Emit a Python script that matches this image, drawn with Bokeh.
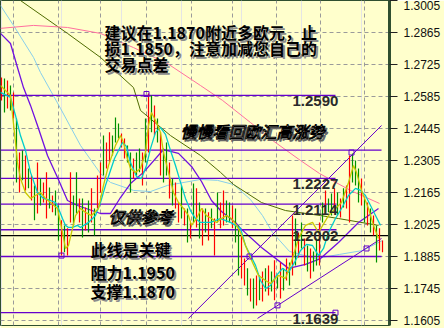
from bokeh.plotting import figure
from bokeh.models import Range1d, FixedTicker, Grid, Label, PrintfTickFormatter
from bokeh.core.properties import value
from bokeh.embed import file_html
from bokeh.resources import INLINE

# ---- price bars (high / low per bar, 1 = up bar) ----
bar_high = [1.2668, 1.2664, 1.2655, 1.2633, 1.2603, 1.2489, 1.2340, 1.2349, 1.2327, 1.2270,
            1.2239, 1.2196, 1.2296, 1.2226, 1.2209, 1.2253, 1.2187, 1.2152, 1.2174, 1.2108,
            1.2043, 1.2021, 1.2008, 1.2253, 1.2152, 1.2253, 1.2139, 1.2139, 1.2099, 1.2130,
            1.2183, 1.2095, 1.2239, 1.2296, 1.2414, 1.2384, 1.2428, 1.2414, 1.2493, 1.2467,
            1.2423, 1.2401, 1.2371, 1.2340, 1.2314, 1.2340, 1.2357, 1.2340, 1.2489, 1.2598,
            1.2589, 1.2546, 1.2489, 1.2428, 1.2357, 1.2384, 1.2296, 1.2226, 1.2209, 1.2121,
            1.2196, 1.2095, 1.2095, 1.2034, 1.2204, 1.2183, 1.2121, 1.2095, 1.2095, 1.2078,
            1.2095, 1.2051, 1.2165, 1.2121, 1.2174, 1.2130, 1.2121, 1.2108, 1.2095, 1.2021,
            1.1977, 1.1876, 1.1833, 1.1789, 1.1789, 1.1802, 1.1802, 1.1819, 1.1833, 1.1846,
            1.1819, 1.1868, 1.1802, 1.1859, 1.1833, 1.1876, 1.1859, 1.2064, 1.2051, 1.1990,
            1.2034, 1.1964, 1.1933, 1.1920, 1.1907, 1.1964, 1.2034, 1.2121, 1.2174, 1.2139,
            1.2161, 1.2183, 1.2165, 1.2139, 1.2183, 1.2196, 1.2327, 1.2336, 1.2305, 1.2270,
            1.2226, 1.2139, 1.2121, 1.2095, 1.2064, 1.2021, 1.2008, 1.1955]
bar_low = [1.2568, 1.2515, 1.2533, 1.2524, 1.2489, 1.2209, 1.2165, 1.2218, 1.2174, 1.2183,
           1.2130, 1.2043, 1.2073, 1.2108, 1.2121, 1.2051, 1.2095, 1.2078, 1.2064, 1.1955,
           1.1889, 1.1903, 1.1889, 1.2034, 1.2021, 1.2073, 1.2034, 1.1968, 1.1999, 1.1990,
           1.2034, 1.1977, 1.2095, 1.2165, 1.2239, 1.2270, 1.2296, 1.2327, 1.2384, 1.2401,
           1.2362, 1.2314, 1.2296, 1.2165, 1.2226, 1.2239, 1.2253, 1.2196, 1.2296, 1.2340,
           1.2428, 1.2414, 1.2384, 1.2239, 1.2209, 1.2239, 1.2139, 1.2108, 1.2095, 1.2034,
           1.2051, 1.2021, 1.1946, 1.1964, 1.2034, 1.2012, 1.1964, 1.1933, 1.1990, 1.1955,
           1.2008, 1.1889, 1.2034, 1.2008, 1.2021, 1.2034, 1.2034, 1.2008, 1.1946, 1.1802,
           1.1789, 1.1758, 1.1714, 1.1688, 1.1657, 1.1671, 1.1693, 1.1688, 1.1732, 1.1714,
           1.1732, 1.1693, 1.1745, 1.1701, 1.1736, 1.1780, 1.1758, 1.1802, 1.1846, 1.1881,
           1.1920, 1.1846, 1.1819, 1.1789, 1.1819, 1.1846, 1.1846, 1.2034, 1.2078, 1.2078,
           1.2064, 1.2078, 1.2064, 1.2056, 1.2099, 1.2095, 1.2034, 1.2209, 1.2196, 1.2121,
           1.2108, 1.2034, 1.2021, 1.1990, 1.1977, 1.1859, 1.1911, 1.1903]
bar_up = [0, 1, 0, 1, 0, 1, 0, 1, 0, 1, 0, 1, 0, 1, 0, 0, 1, 0, 1, 1,
          0, 1, 0, 0, 1, 1, 0, 1, 0, 1, 0, 1, 0, 0, 1, 0, 0, 1, 1, 1,
          0, 0, 1, 1, 0, 1, 1, 0, 1, 0, 1, 0, 1, 0, 1, 1, 0, 1, 0, 0,
          1, 0, 1, 0, 1, 0, 1, 0, 1, 0, 1, 0, 1, 0, 0, 1, 1, 0, 1, 1,
          0, 0, 1, 0, 1, 0, 1, 0, 1, 0, 1, 0, 1, 0, 1, 0, 1, 0, 1, 0,
          1, 0, 1, 0, 1, 1, 0, 1, 0, 1, 1, 0, 1, 0, 1, 0, 0, 1, 1, 1,
          0, 1, 0, 1, 0, 1, 0, 0]

# ---- moving averages (bar position, price) ----
ma_yellow_x = [-0.33, 3, 4.67, 5.33, 6.33, 8, 9.67, 11.33, 13, 14.67, 16.33, 18.67, 20.33, 21.33,
               22.33, 23.67, 24.67, 26.33, 28, 30, 32.33, 34, 35.67, 38, 39.67, 40.67, 41.67, 43,
               44.67, 46.33, 48, 49, 50, 51.67, 53, 54, 55.67, 57.33, 59, 60.67, 62.33, 63.33, 65,
               66.67, 68.33, 70, 71.67, 73.33, 75, 76.67, 78.33, 79.67, 81.33, 83.67, 85.67, 88,
               89.67, 92.33, 94.67, 97, 99, 101.33, 103.67, 105.67, 109, 111.33, 113.33, 115.67,
               117.33, 118.33, 120, 122.33, 124, 125.67]
ma_yellow_y = [1.2633, 1.2589, 1.2384, 1.2296, 1.2226, 1.2165, 1.2139, 1.2152, 1.2165, 1.2139,
               1.2121, 1.2095, 1.1990, 1.1920, 1.1933, 1.2008, 1.2064, 1.2095, 1.2078, 1.2064,
               1.2095, 1.2196, 1.2283, 1.2371, 1.2414, 1.2384, 1.2327, 1.2270, 1.2253, 1.2270,
               1.2340, 1.2458, 1.2515, 1.2471, 1.2428, 1.2340, 1.2253, 1.2165, 1.2121, 1.2095,
               1.2064, 1.2021, 1.2051, 1.2095, 1.2064, 1.2051, 1.2034, 1.2051, 1.2064, 1.2051,
               1.2021, 1.1990, 1.1933, 1.1859, 1.1802, 1.1780, 1.1767, 1.1802, 1.1789, 1.1876,
               1.1964, 1.2021, 1.2034, 1.1990, 1.2064, 1.2095, 1.2121, 1.2209, 1.2283, 1.2253,
               1.2174, 1.2095, 1.2021, 1.1964]

ma_cyan_x = [-0.33, 3, 4.67, 6.33, 8, 9.67, 12, 14, 16.33, 18, 19, 20.33, 21.33, 22.33, 23.67,
             25.33, 26.33, 29, 31.33, 33, 34.67, 36.33, 37.67, 39, 40.33, 41.67, 43, 45, 46.67,
             48.33, 49.67, 51.33, 53, 54.67, 56.33, 58, 59.67, 61.33, 63, 64.67, 66.33, 69.67,
             73, 76.33, 79.67, 81.33, 83, 84.67, 86.33, 88, 89.67, 91.67, 93.67, 95.67, 97.67,
             99.67, 101.67, 103.67, 105.67, 107.33, 109, 111.33, 113.33, 115.67, 118, 119.67,
             121.33, 123, 124.67, 126.33]
ma_cyan_y = [1.2603, 1.2581, 1.2502, 1.2414, 1.2349, 1.2253, 1.2165, 1.2139, 1.2130, 1.2121,
             1.2095, 1.2051, 1.2021, 1.2012, 1.2012, 1.2021, 1.2012, 1.2034, 1.2064, 1.2121,
             1.2196, 1.2261, 1.2314, 1.2349, 1.2384, 1.2366, 1.2296, 1.2235, 1.2226, 1.2283,
             1.2357, 1.2428, 1.2449, 1.2419, 1.2349, 1.2283, 1.2209, 1.2139, 1.2086, 1.2051,
             1.2034, 1.2034, 1.2051, 1.2034, 1.2008, 1.1933, 1.1889, 1.1846, 1.1780, 1.1745,
             1.1758, 1.1802, 1.1833, 1.1815, 1.1859, 1.1911, 1.1938, 1.1933, 1.1889, 1.1920,
             1.1990, 1.2051, 1.2095, 1.2152, 1.2183, 1.2174, 1.2152, 1.2108, 1.2064, 1.2021]

ma_violet_x = [-0.33, 3, 5.33, 7.33, 9.67, 12, 15.33, 18.67, 22, 25.33, 33, 36.33, 39.67, 43,
               47.33, 54, 59, 63.33, 66.67, 70, 73.33, 78, 79.67, 86.67, 95.67, 101.33, 106.33,
               112.33, 119, 125.67]
ma_violet_y = [1.2861, 1.2817, 1.2712, 1.2624, 1.2546, 1.2458, 1.2327, 1.2231, 1.2130, 1.2108,
               1.2073, 1.2073, 1.2143, 1.2204, 1.2253, 1.2353, 1.2336, 1.2279, 1.2213, 1.2130,
               1.2082, 1.2034, 1.2008, 1.1924, 1.1833, 1.1850, 1.1876, 1.1946, 1.2034, 1.2095]

ma_sky_x = [-0.33, 4, 10.67, 13, 19.67, 26.33, 33, 36.33, 44, 49.67, 55.33, 66.33, 72, 77.33,
            83, 87, 90.33, 96, 104.67, 112.67, 120.33, 127]
ma_sky_y = [1.2983, 1.2896, 1.2756, 1.2690, 1.2533, 1.2371, 1.2248, 1.2209, 1.2174, 1.2169,
            1.2196, 1.2222, 1.2218, 1.2200, 1.2134, 1.2064, 1.1990, 1.1907, 1.1876, 1.1894,
            1.1911, 1.1955]

ma_olive_x = [6.33, 22, 33, 44, 46.33, 56.33, 66.33, 73, 77.33, 86.67, 94.67, 106.33, 112.33, 125.67]
ma_olive_y = [1.3005, 1.2861, 1.2756, 1.2624, 1.2524, 1.2414, 1.2327, 1.2253, 1.2200, 1.2121,
              1.2086, 1.2064, 1.2051, 1.2021]

ma_pink_x = [-0.33, 10.67, 22, 33, 44, 55.33, 66.33, 73.67, 83, 90.33, 99.67, 106, 116.33, 126]
ma_pink_y = [1.2883, 1.2896, 1.2887, 1.2861, 1.2799, 1.2729, 1.2633, 1.2568, 1.2471, 1.2393,
             1.2305, 1.2248, 1.2174, 1.2117]

# ---- horizontal levels and trend lines ----
level_price = [1.2590, 1.2350, 1.2227, 1.2114, 1.2002, 1.1885, 1.1639]
level_end = [111.33, 126.67, 111.33, 111.67, 111.67, 126.67, 111.33]
level_tags = ["1.2590", "", "1.2227", "1.2114", "1.2002", "", "1.1639"]
bid_price = 1.1976

trend_x0 = [62.33, 85.33]
trend_y0 = [1.1614, 1.1614]
trend_x1 = [126.67, 126.67]
trend_y1 = [1.2458, 1.1964]

marker_x = [48.33, 20, 82.67, 92, 111.33, 116.67, 121.67]
marker_y = [1.2596, 1.1889, 1.1885, 1.1671, 1.1639, 1.2340, 1.1920]

price_ticks = [1.3005, 1.2865, 1.2725, 1.2585, 1.2445, 1.2305, 1.2165, 1.2025, 1.1885, 1.1745, 1.1605]
time_ticks = [4, 19, 33, 48.33, 63.33, 77, 91.67, 106.33, 121]

note_lines = ["建议在1.1870附近多欧元，止", "损1.1850，注意加减您自己的", "交易点差"]
key_lines = ["此线是关键", "阻力1.1950", "支撑1.1870"]
banner_text = "慢慢看回欧汇高涨势"
ref_text = "仅供参考"

BG = "#FFFFCC"
VIOLET = "#6600CC"

p = figure(frame_width=389, frame_height=325, output_backend="svg", toolbar_location=None,
           x_range=Range1d(-0.33, 129.33), y_range=Range1d(1.1583, 1.3005),
           x_axis_location=None, y_axis_location="right",
           min_border_left=0, min_border_top=0, min_border_bottom=3, min_border_right=55)
p.background_fill_color = BG
p.border_fill_color = BG
p.outline_line_color = "#2F4F2F"
p.outline_line_width = 1

yax = p.yaxis[0]
yax.ticker = FixedTicker(ticks=price_ticks)
yax.formatter = PrintfTickFormatter(format="%.4f")
yax.axis_line_color = "#2F4F2F"
yax.axis_line_width = 3
yax.major_tick_out = 8
yax.major_tick_in = 0
yax.minor_tick_line_color = None
yax.major_tick_line_color = "#222222"
yax.major_label_standoff = 6
yax.major_label_text_font = "Liberation Sans"
yax.major_label_text_font_size = "12px"
yax.major_label_text_color = "#111111"

p.ygrid.grid_line_color = "#9A9A9A"
p.ygrid.grid_line_dash = "4 3"
p.ygrid.grid_line_width = 1
p.add_layout(Grid(dimension=0, ticker=FixedTicker(ticks=time_ticks),
                  grid_line_color="#9A9A9A", grid_line_dash="4 3", grid_line_width=1))

# moving averages
p.line(ma_sky_x, ma_sky_y, color="#87CEEB", line_width=1)
p.line(ma_olive_x, ma_olive_y, color="#4F6B00", line_width=1)
p.line(ma_pink_x, ma_pink_y, color="#FF6F9F", line_width=1)
p.line(ma_violet_x, ma_violet_y, color="#7010E0", line_width=1.3)

# horizontal levels
p.segment(x0=[-0.33] * len(level_price), y0=level_price, x1=level_end, y1=level_price,
          color=VIOLET, line_width=1.3)
p.segment(x0=[-0.33], y0=[bid_price], x1=[129.33], y1=[bid_price], color="black", line_width=1.3)

# trend lines
p.segment(x0=trend_x0, y0=trend_y0, x1=trend_x1, y1=trend_y1, color=VIOLET, line_width=1)

# bars
idx = list(range(len(bar_high)))
bar_colors = ["#009000" if u else "#FF0000" for u in bar_up]
p.segment(x0=idx, y0=bar_low, x1=idx, y1=bar_high, color=bar_colors, line_width=1.2)

p.line(ma_cyan_x, ma_cyan_y, color="#00CCCC", line_width=1.3)
p.line(ma_yellow_x, ma_yellow_y, color="#C8C800", line_width=1.3)

p.scatter(marker_x, marker_y, marker="square", size=5, fill_color=None,
          line_color=VIOLET, line_width=1)

# level tags
p.text(x=[97 for t in level_tags if t], y=[v for v, t in zip(level_price, level_tags) if t],
       text=[t for t in level_tags if t], text_font=value("Liberation Sans"),
       text_font_style="bold", text_font_size="15px", text_color="#2A2A2A",
       text_baseline="top", y_offset=1)

# notes with drop shadow
note_y = [1.2869, 1.2795, 1.2729]
key_y = [1.1916, 1.1815, 1.1736]
for dx, col in ((2, "#8C8C8C"), (0, "#000000")):
    p.text(x=[34.33] * 3, y=note_y, text=note_lines, text_font=value("Noto Sans CJK SC"),
           text_font_style="bold", text_font_size="16px", text_color=col,
           text_baseline="middle", x_offset=dx, y_offset=dx)
    p.text(x=[29.67] * 3, y=key_y, text=key_lines, text_font=value("Noto Sans CJK SC"),
           text_font_style="bold", text_font_size="16px", text_color=col,
           text_baseline="middle", x_offset=dx, y_offset=dx)

# outlined banners
for dx, col, oc in ((2, "#666666", "#666666"), (0, "#FFFFF0", "#000000")):
    p.text(x=[59.67], y=[1.2432], text=[banner_text], text_font=value("Noto Sans CJK SC"),
           text_font_style="italic", text_font_size="16px", text_color=col,
           text_outline_color=oc, text_baseline="middle", x_offset=dx, y_offset=dx)
    p.text(x=[35.67], y=[1.2064], text=[ref_text], text_font=value("Noto Sans CJK SC"),
           text_font_style="italic", text_font_size="16px", text_color=col,
           text_outline_color=oc, text_baseline="middle", x_offset=dx, y_offset=dx)

p.add_layout(Label(x=133, y=bid_price, text=f"{bid_price:.4f}", text_font="Liberation Sans",
                   text_font_size="12px", text_color="#000000", text_baseline="middle"))

open("out.html", "w").write(file_html(p, INLINE))
